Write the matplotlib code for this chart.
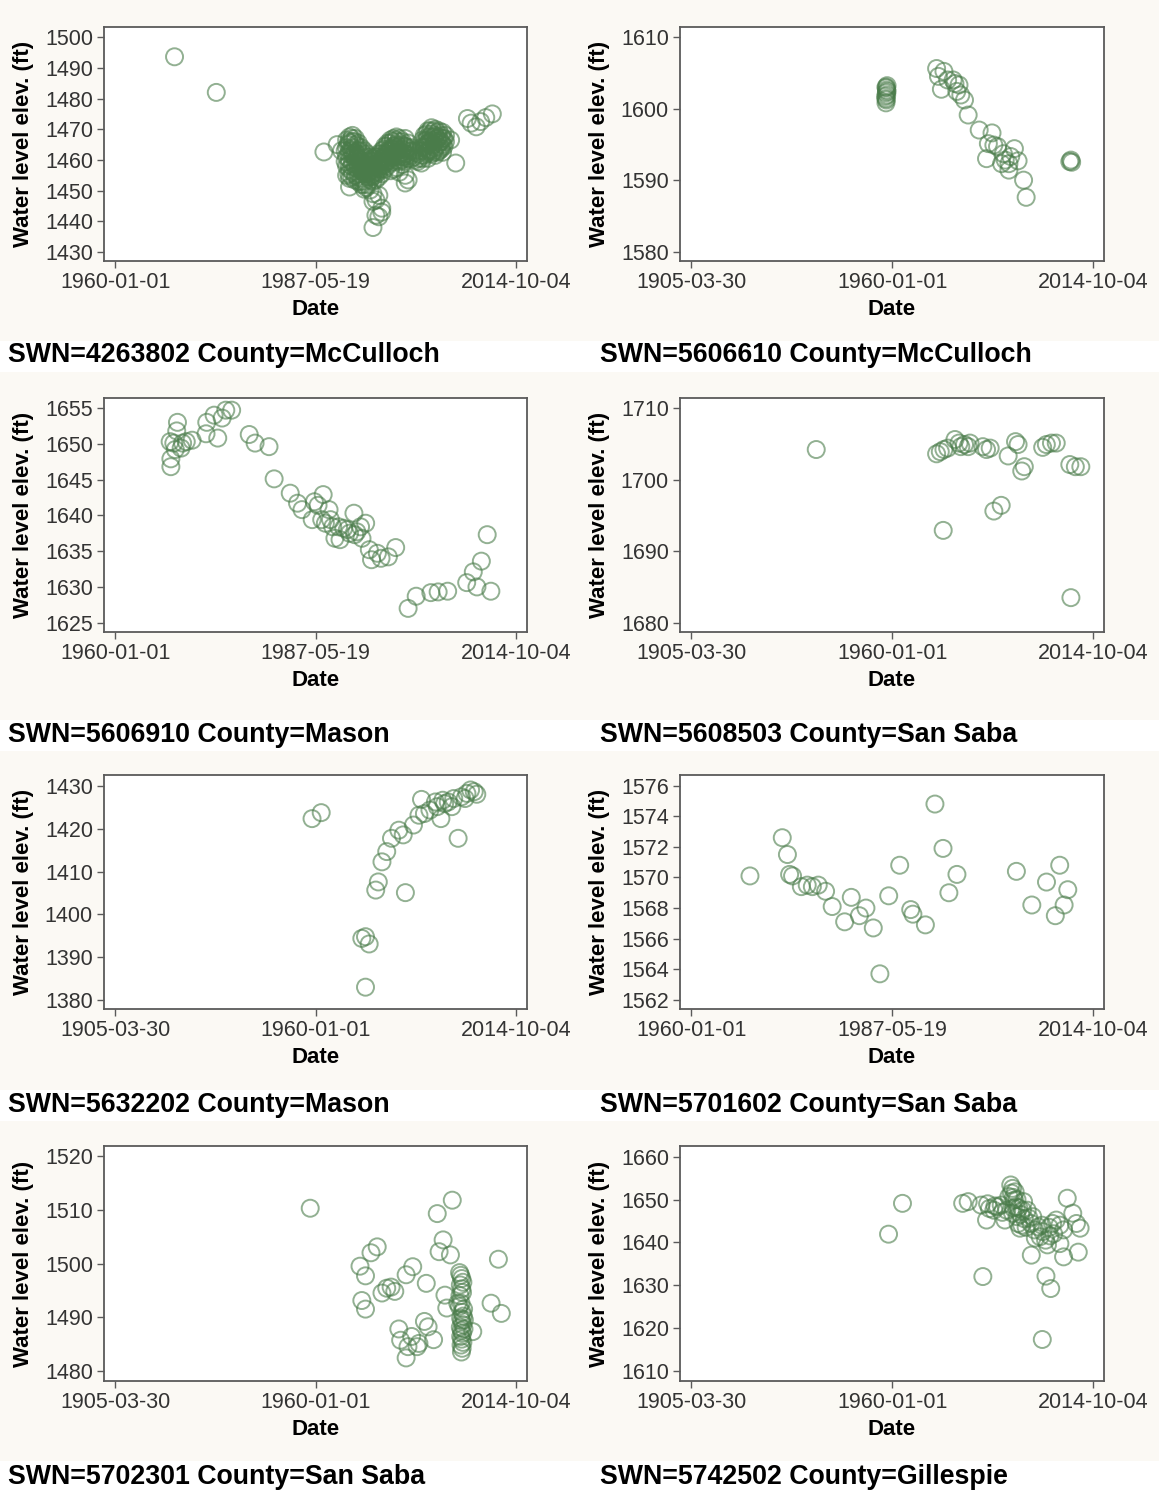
import pandas as pd
import matplotlib
matplotlib.use('Agg')
import matplotlib.pyplot as plt
import matplotlib.dates as mdates
from matplotlib.patches import Rectangle

plt.rcParams['font.family'] = ['Liberation Sans', 'DejaVu Sans']

# captions under each panel
CAPTIONS = ['SWN=4263802 County=McCulloch', 'SWN=5606610 County=McCulloch',
            'SWN=5606910 County=Mason', 'SWN=5608503 County=San Saba',
            'SWN=5632202 County=Mason', 'SWN=5701602 County=San Saba',
            'SWN=5702301 County=San Saba', 'SWN=5742502 County=Gillespie']

# date ticks used by the panels
TICKS_1960 = ['1960-01-01', '1987-05-19', '2014-10-04']
TICKS_1905 = ['1905-03-30', '1960-01-01', '2014-10-04']

# y tick labels per panel
YTICKS_1 = [1430, 1440, 1450, 1460, 1470, 1480, 1490, 1500]
YTICKS_2 = [1580, 1590, 1600, 1610]
YTICKS_3 = [1625, 1630, 1635, 1640, 1645, 1650, 1655]
YTICKS_4 = [1680, 1690, 1700, 1710]
YTICKS_5 = [1380, 1390, 1400, 1410, 1420, 1430]
YTICKS_6 = [1562, 1564, 1566, 1568, 1570, 1572, 1574, 1576]
YTICKS_7 = [1480, 1490, 1500, 1510, 1520]
YTICKS_8 = [1610, 1620, 1630, 1640, 1650, 1660]

# well 4263802 (decimal year, elevation)
YEAR_1 = [1968.1, 1973.8, 1988.5, 1990.3, 1990.9,
          1991.6, 1991.6, 1991.6, 1991.6, 1991.6,
          1992.0, 1992.0, 1992.0, 1992.0, 1992.0, 1992.0, 1992.0,
          1992.4, 1992.4, 1992.4, 1992.4, 1992.4, 1992.4,
          1992.8, 1992.8, 1992.8, 1992.8, 1992.8, 1992.8,
          1993.2, 1993.2, 1993.2, 1993.2, 1993.2, 1993.2,
          1993.6, 1993.6, 1993.6, 1993.6, 1993.6, 1993.6,
          1994.0, 1994.0, 1994.0, 1994.0, 1994.0, 1994.0,
          1994.4, 1994.4, 1994.4, 1994.4, 1994.4,
          1994.8, 1994.8, 1994.8, 1994.8, 1994.8,
          1995.2, 1995.2, 1995.2, 1995.2, 1995.2, 1995.2, 1995.2,
          1995.6, 1995.6, 1995.6, 1995.6, 1995.6, 1995.6,
          1996.0, 1996.0, 1996.0, 1996.0, 1996.0, 1996.0,
          1996.4, 1996.4, 1996.4, 1996.4, 1996.4, 1996.4,
          1996.8, 1996.8, 1996.8, 1996.8,
          1997.2, 1997.2, 1997.2, 1997.2,
          1997.6, 1997.6, 1997.6, 1997.6, 1997.6,
          1998.0, 1998.0, 1998.0, 1998.0, 1998.0,
          1998.4, 1998.4, 1998.4, 1998.4, 1998.4,
          1998.8, 1998.8, 1998.8, 1998.8, 1998.8,
          1999.2, 1999.2, 1999.2, 1999.2,
          1999.6, 1999.6, 1999.6, 1999.6, 1999.6,
          2000.0, 2000.0, 2000.0, 2000.0,
          2000.4, 2000.4, 2000.8, 2000.8, 2001.3, 2001.3,
          2001.8, 2001.8, 2001.8,
          2002.2, 2002.2, 2002.2, 2002.2,
          2002.7, 2002.7, 2002.7, 2002.7, 2002.7,
          2003.2, 2003.2, 2003.2, 2003.2, 2003.2,
          2003.7, 2003.7, 2003.7, 2003.7, 2003.7,
          2004.2, 2004.2, 2004.2, 2004.2,
          2004.7, 2004.7, 2004.7, 2004.7,
          2005.1, 2005.1,
          1991.8, 1992.2, 1992.6, 1993.0, 1993.4, 1993.8, 1994.2, 1994.6,
          1995.0, 1995.4, 1995.8, 1996.2, 1996.6, 1997.0, 1997.4, 1997.8,
          1998.2, 1998.6, 1999.0, 1999.4, 2002.4, 2002.9, 2003.4, 2003.9,
          2004.4, 2002.5, 2003.0, 2003.5, 2004.0, 2004.5,
          1991.4, 1991.4, 1991.9, 1991.9, 1991.9, 1991.9,
          1992.3, 1992.3, 1992.3, 1992.3, 1992.7, 1992.7, 1992.7, 1992.7,
          1993.1, 1993.1, 1993.1, 1993.1, 1993.5, 1993.5, 1993.5, 1993.5,
          1993.9, 1993.9, 1993.9, 1993.9, 1994.3, 1994.3, 1994.3, 1994.3,
          1994.7, 1994.7, 1994.7, 1995.1, 1995.1, 1995.1,
          1995.5, 1995.5, 1995.5, 1995.9, 1995.9, 1995.9,
          1996.3, 1996.3, 1996.3, 1996.7, 1996.7, 1996.7,
          1997.1, 1997.1, 1997.1, 1997.5, 1997.5, 1997.5,
          1997.9, 1997.9, 1997.9, 1998.3, 1998.3, 1998.3,
          1998.7, 1998.7, 1998.7, 1999.1, 1999.1, 1999.1,
          1999.5, 1999.5, 1999.5, 1999.9, 1999.9, 2000.5, 2000.5,
          2001.0, 2001.0, 2001.5, 2001.5, 2002.0, 2002.0, 2002.0,
          2002.5, 2002.5, 2002.5, 2002.5, 2003.0, 2003.0, 2003.0, 2003.0,
          2003.5, 2003.5, 2003.5, 2003.5, 2004.0, 2004.0, 2004.0,
          2004.5, 2004.5, 2004.5, 2004.9, 2004.9,
          2005.8, 2006.5, 2008.1, 2008.6, 2009.3, 2009.9, 2010.6, 2011.5]
ELEV_1 = [1493.6, 1482.0, 1462.6, 1465.0, 1463.0,
          1466.5, 1464.0, 1461.0, 1458.0, 1455.0,
          1467.5, 1465.5, 1463.0, 1460.0, 1457.0, 1454.0, 1451.2,
          1468.0, 1466.0, 1464.0, 1461.5, 1459.0, 1456.0,
          1467.0, 1465.0, 1462.5, 1460.0, 1457.5, 1455.0,
          1465.5, 1463.0, 1460.5, 1458.0, 1455.5, 1453.0,
          1464.0, 1461.5, 1459.0, 1456.5, 1454.0, 1452.0,
          1463.0, 1460.5, 1458.0, 1455.5, 1453.0, 1450.5,
          1462.0, 1459.5, 1457.0, 1454.5, 1452.0,
          1461.0, 1458.5, 1456.0, 1453.5, 1450.2,
          1460.5, 1458.0, 1455.5, 1453.0, 1449.0, 1446.5, 1438.0,
          1461.0, 1458.5, 1456.0, 1453.5, 1447.0, 1442.0,
          1462.0, 1459.5, 1457.0, 1454.5, 1448.5, 1441.5,
          1463.0, 1460.5, 1458.0, 1455.5, 1444.3, 1443.0,
          1464.5, 1462.0, 1459.5, 1457.0,
          1465.5, 1463.0, 1460.5, 1458.0,
          1466.5, 1464.0, 1461.5, 1459.0, 1456.5,
          1467.0, 1464.5, 1462.0, 1459.5, 1457.0,
          1467.5, 1465.0, 1462.5, 1460.0, 1457.5,
          1467.0, 1464.5, 1462.0, 1459.5, 1456.0,
          1466.0, 1463.5, 1461.0, 1458.5,
          1467.0, 1464.5, 1462.0, 1455.0, 1452.5,
          1465.5, 1463.0, 1460.5, 1453.5,
          1464.0, 1461.5, 1463.0, 1461.0, 1462.0, 1459.5,
          1464.0, 1461.5, 1459.0,
          1468.0, 1466.0, 1464.0, 1461.5,
          1469.5, 1467.5, 1465.5, 1463.0, 1460.5,
          1470.5, 1468.5, 1466.5, 1464.5, 1462.0,
          1470.0, 1468.0, 1466.0, 1464.0, 1461.5,
          1469.5, 1467.5, 1465.5, 1463.0,
          1469.0, 1467.0, 1465.0, 1462.5,
          1468.0, 1466.0,
          1465.0, 1463.5, 1462.0, 1460.5, 1459.5, 1458.0, 1457.0, 1456.0,
          1455.0, 1456.5, 1457.5, 1458.5, 1460.0, 1461.0, 1462.5, 1463.5,
          1464.5, 1463.0, 1462.0, 1461.0, 1465.0, 1466.0, 1467.5, 1467.0,
          1466.0, 1462.5, 1463.5, 1463.0, 1462.5, 1464.0,
          1463.0, 1459.5, 1466.0, 1462.0, 1458.5, 1455.5,
          1467.0, 1463.0, 1458.0, 1454.5, 1466.0, 1461.0, 1458.5, 1453.5,
          1464.5, 1461.5, 1457.0, 1454.5, 1463.0, 1460.0, 1457.5, 1453.0,
          1462.0, 1459.0, 1456.5, 1452.0, 1461.0, 1458.0, 1455.5, 1451.0,
          1460.0, 1457.0, 1454.5, 1459.5, 1457.0, 1454.5,
          1460.0, 1457.5, 1455.0, 1461.0, 1458.5, 1456.0,
          1462.0, 1459.5, 1457.0, 1463.5, 1461.0, 1458.5,
          1464.5, 1462.0, 1459.5, 1465.5, 1463.0, 1460.0,
          1466.0, 1463.5, 1461.0, 1466.5, 1464.0, 1461.0,
          1466.0, 1463.5, 1461.0, 1465.0, 1462.5, 1460.0,
          1464.5, 1462.0, 1459.5, 1464.0, 1461.5, 1463.0, 1460.5,
          1462.5, 1460.0, 1463.0, 1460.5, 1466.5, 1463.0, 1460.5,
          1468.5, 1466.5, 1464.5, 1462.0, 1469.5, 1467.5, 1465.5, 1463.0,
          1469.5, 1467.5, 1465.0, 1462.5, 1469.0, 1467.0, 1464.5,
          1468.0, 1466.0, 1463.5, 1467.0, 1464.5,
          1466.5, 1459.0, 1473.5, 1472.0, 1470.8, 1472.5, 1473.8, 1475.0]

# well 5606610
YEAR_2 = [1958.3, 1958.5, 1958.4, 1958.2, 1958.4, 1958.3, 1958.6, 1958.5,
          1958.4, 1958.6, 1958.3,
          1972.1, 1974.1, 1972.6, 1973.4, 1975.1, 1976.6, 1977.1, 1978.2,
          1977.6, 1978.7, 1979.7, 1980.7, 1983.7, 1987.2, 1986.2, 1987.7,
          1988.7, 1985.7, 1990.3, 1993.3, 1990.8, 1991.8, 1992.3, 1991.8,
          1994.3, 1989.8, 1995.8, 1996.5, 2008.4, 2008.9, 2008.7]
ELEV_2 = [1603.0, 1602.6, 1602.2, 1601.7, 1601.2, 1600.8, 1603.2, 1601.9,
          1602.9, 1602.4, 1601.4,
          1605.6, 1605.2, 1604.5, 1602.7, 1604.0, 1604.0, 1603.5, 1603.3,
          1602.4, 1601.9, 1601.2, 1599.1, 1597.0, 1596.6, 1595.1, 1594.9,
          1594.7, 1593.0, 1593.7, 1594.4, 1592.8, 1592.3, 1593.3, 1591.4,
          1592.7, 1592.3, 1590.0, 1587.6, 1592.6, 1592.5, 1592.8]

# well 5606910
YEAR_3 = [1967.5, 1967.6, 1967.6, 1968.5, 1968.4, 1968.0, 1968.2, 1969.0,
          1969.2, 1969.7, 1970.5, 1972.5, 1973.5, 1972.4, 1974.0, 1974.6,
          1975.1, 1975.9, 1978.3, 1979.1, 1981.0, 1981.7, 1983.9, 1984.9,
          1985.5, 1986.9, 1987.2, 1987.7, 1988.4, 1989.2, 1988.7, 1989.7,
          1990.0, 1990.7, 1990.5, 1991.2, 1992.0, 1992.6, 1993.0, 1993.5,
          1994.2, 1993.7, 1994.7, 1995.0, 1995.8, 1996.3, 1997.3, 1998.3,
          1988.2, 1989.4, 1991.7, 1992.7,
          2000.0, 2001.1, 2003.1, 2004.1, 2005.4, 2008.0, 2008.9, 2009.4,
          2010.0, 2010.8, 2011.3]
ELEV_3 = [1650.3, 1647.9, 1646.8, 1653.0, 1651.8, 1650.1, 1649.2, 1649.4,
          1650.1, 1650.3, 1650.5, 1653.0, 1654.0, 1651.4, 1650.8, 1653.6,
          1654.7, 1654.7, 1651.3, 1650.1, 1649.6, 1645.1, 1643.1, 1641.7,
          1640.8, 1639.4, 1641.9, 1641.4, 1642.9, 1640.8, 1638.9, 1638.4,
          1636.8, 1636.6, 1638.4, 1638.2, 1637.5, 1640.3, 1637.7, 1638.4,
          1638.9, 1636.8, 1635.2, 1633.8, 1634.7, 1634.0, 1634.2, 1635.5,
          1639.4, 1639.4, 1638.0, 1637.3,
          1627.0, 1628.7, 1629.2, 1629.3, 1629.4, 1630.6, 1632.1, 1630.0,
          1633.6, 1637.3, 1629.4]

# well 5608503
YEAR_4 = [1939.3, 1972.1, 1973.1, 1974.1, 1975.1, 1977.1, 1978.2, 1979.7,
          1980.7, 1981.2, 1978.7, 1984.7, 1985.7, 1986.7, 1991.6, 1993.6,
          1994.3, 1995.3, 1996.0, 1987.7, 1989.7, 1973.9, 2001.0, 2002.0,
          2003.4, 2004.7, 2008.4, 2009.9, 2011.4, 2008.7]
ELEV_4 = [1704.2, 1703.6, 1703.9, 1704.2, 1704.4, 1705.6, 1705.1, 1704.9,
          1704.6, 1705.1, 1704.6, 1704.6, 1704.2, 1704.4, 1703.3, 1705.3,
          1704.9, 1701.2, 1701.8, 1695.6, 1696.4, 1692.9, 1704.5, 1704.9,
          1705.1, 1705.1, 1702.1, 1701.8, 1701.8, 1683.5]

# well 5632202
YEAR_5 = [1959.0, 1961.5, 1972.6, 1973.6, 1974.6, 1973.6, 1976.4, 1977.1,
          1978.1, 1979.4, 1980.7, 1982.7, 1983.9, 1984.5, 1986.7, 1988.2,
          1988.9, 1989.7, 1991.2, 1992.7, 1993.2, 1994.2, 1994.7, 1995.2,
          1996.2, 1997.2, 1997.7, 1998.9, 1999.8, 2001.3, 2002.3, 2003.3,
          2004.0, 2000.8]
ELEV_5 = [1422.4, 1423.8, 1394.4, 1394.8, 1393.1, 1383.0, 1405.7, 1407.6,
          1412.3, 1414.7, 1417.8, 1419.7, 1418.6, 1405.1, 1420.9, 1423.2,
          1426.9, 1423.6, 1424.4, 1426.3, 1425.2, 1422.4, 1426.7, 1425.9,
          1426.3, 1425.2, 1427.1, 1417.8, 1427.5, 1428.3, 1429.1, 1428.7,
          1428.1, 1427.1]

# well 5701602
YEAR_6 = [1968.0, 1972.4, 1973.1, 1973.4, 1973.8, 1975.0, 1975.8, 1976.5,
          1977.3, 1978.3, 1979.2, 1980.9, 1981.8, 1982.9, 1983.8, 1984.8,
          1985.7, 1986.9, 1988.4, 1989.9, 1990.2, 1991.9, 1993.2, 1994.3,
          1995.1, 1996.2, 2004.3, 2006.4, 2008.4, 2009.6, 2010.2, 2010.8,
          2011.3]
ELEV_6 = [1570.1, 1572.6, 1571.5, 1570.2, 1570.1, 1569.4, 1569.5, 1569.4,
          1569.5, 1569.1, 1568.1, 1567.1, 1568.7, 1567.5, 1568.0, 1566.7,
          1563.7, 1568.8, 1570.8, 1567.9, 1567.6, 1566.9, 1574.8, 1571.9,
          1569.0, 1570.2, 1570.4, 1568.2, 1569.7, 1567.5, 1570.8, 1568.2,
          1569.2]

# well 5702301
YEAR_7 = [1958.5, 1972.1, 1973.6, 1972.6, 1973.6, 1975.1, 1976.8, 1978.1,
          1979.4, 1980.6, 1981.6, 1982.7, 1983.2, 1984.7, 1985.2, 1986.2,
          1987.7, 1988.2, 1989.7, 1990.7, 1992.2, 1984.7, 1986.5, 1990.2,
          1993.2, 1997.3, 1994.8, 1993.7, 1996.8, 1995.3, 1995.8, 1998.8,
          1999.3, 1999.6, 1999.9, 2000.2, 1999.5, 1999.9, 2000.1, 1999.4,
          1999.7, 2000.0, 2000.3, 1999.6, 1999.9, 2000.2, 1999.5, 1999.8,
          2000.1, 1999.6, 1999.9, 2000.2, 1999.7, 2000.0, 1999.8, 2000.4,
          2000.6, 2000.5, 1999.2,
          2002.9, 2007.9, 2009.9, 2010.7]
ELEV_7 = [1510.3, 1499.5, 1497.7, 1493.1, 1491.5, 1502.0, 1503.1, 1494.5,
          1495.4, 1495.6, 1494.8, 1487.8, 1485.7, 1482.4, 1484.5, 1486.4,
          1484.5, 1485.1, 1489.2, 1488.2, 1485.8, 1497.9, 1499.4, 1496.3,
          1509.3, 1511.8, 1504.4, 1502.2, 1501.6, 1494.1, 1491.7, 1492.6,
          1498.3, 1497.8, 1497.2, 1496.5, 1496.0, 1495.3, 1494.6, 1494.0,
          1492.6, 1490.9, 1490.2, 1489.8, 1489.3, 1488.6, 1488.1, 1487.5,
          1487.0, 1486.4, 1485.9, 1485.3, 1484.8, 1484.2, 1483.5, 1491.5,
          1489.5, 1487.8, 1492.0,
          1487.3, 1492.6, 1500.8, 1490.7]

# well 5742502
YEAR_8 = [1959.0, 1962.8, 1979.2, 1980.7, 1984.7, 1984.2, 1985.7, 1986.5,
          1987.7, 1988.7, 1989.7, 1990.7, 1991.2, 1992.3, 1992.8, 1991.8,
          1993.3, 1993.8, 1992.8, 1994.3, 1994.8, 1995.8, 1996.8, 1997.3,
          1997.8, 1998.3, 1998.8, 1999.8, 2000.8, 2000.3, 2001.8, 2002.3,
          1997.9, 2001.9, 2003.2, 2000.9, 2003.7, 2004.7, 2005.7, 2006.7,
          2005.7, 2006.7, 2007.7, 2009.2, 2010.2, 2011.2, 2010.7,
          1992.5, 1993.0, 1993.5, 1994.0, 1994.5, 1995.0, 1995.5, 1996.0,
          1993.0, 1994.0, 1995.3, 1996.5, 1999.0, 2001.0, 2002.8, 2003.0,
          2004.0, 1986.0, 1988.0, 1990.0]
ELEV_8 = [1641.9, 1649.1, 1649.1, 1649.5, 1632.0, 1648.7, 1645.2, 1647.9,
          1647.5, 1648.3, 1648.7, 1645.2, 1647.5, 1653.4, 1652.6, 1650.7,
          1649.9, 1648.3, 1646.8, 1644.4, 1643.3, 1649.5, 1647.5, 1645.6,
          1644.4, 1646.0, 1642.9, 1643.6, 1644.0, 1641.3, 1640.5, 1639.4,
          1637.0, 1632.1, 1629.2, 1617.3, 1644.4, 1645.2, 1644.0, 1642.9,
          1639.7, 1636.6, 1650.3, 1646.8, 1644.4, 1643.3, 1637.7,
          1651.5, 1650.5, 1651.8, 1650.0, 1648.0, 1646.5, 1647.5, 1645.5,
          1648.0, 1646.0, 1644.0, 1643.5, 1641.0, 1642.5, 1643.5, 1641.5,
          1642.0, 1649.0, 1648.5, 1647.0]

PANELS = [
    (YEAR_1, ELEV_1, TICKS_1960, YTICKS_1, (1427.1, 1503.3)),
    (YEAR_2, ELEV_2, TICKS_1905, YTICKS_2, (1578.7, 1611.4)),
    (YEAR_3, ELEV_3, TICKS_1960, YTICKS_3, (1623.7, 1656.4)),
    (YEAR_4, ELEV_4, TICKS_1905, YTICKS_4, (1678.7, 1711.4)),
    (YEAR_5, ELEV_5, TICKS_1905, YTICKS_5, (1377.9, 1432.6)),
    (YEAR_6, ELEV_6, TICKS_1960, YTICKS_6, (1561.4, 1576.7)),
    (YEAR_7, ELEV_7, TICKS_1905, YTICKS_7, (1478.1, 1521.9)),
    (YEAR_8, ELEV_8, TICKS_1905, YTICKS_8, (1607.6, 1662.5)),
]

W, H = 1159, 1492
BG = '#fbf9f4'
GREEN = '#4a7c4a'
FRAME = '#5a5a5a'


def to_dates(years):
    # decimal year -> timestamp
    return [pd.Timestamp(int(y), 1, 1) + pd.Timedelta(days=(y - int(y)) * 365.25) for y in years]


fig = plt.figure(figsize=(W / 100, H / 100), dpi=100, facecolor=BG)

# pixel layout of the boxes
COLS = [(104, 527), (680, 1104)]
ROWS = [(27, 261), (398, 632), (775, 1009), (1146, 1381)]
CAP_Y = [355, 735, 1105, 1477]
BANDS = [(341, 372), (720, 751), (1090, 1121), (1461, 1492)]
CAP_X = [8, 600]

# white strips behind captions
for top, bot in BANDS:
    fig.patches.append(Rectangle((0, 1 - bot / H), 1, (bot - top) / H,
                                 transform=fig.transFigure, facecolor='white',
                                 edgecolor='none', zorder=0))

for i, (years, elev, xticks, yticks, ylim) in enumerate(PANELS):
    row, col = divmod(i, 2)
    x0, x1 = COLS[col]
    top, bot = ROWS[row]
    ax = fig.add_axes([x0 / W, 1 - bot / H, (x1 - x0) / W, (bot - top) / H])
    ax.set_facecolor('white')

    ax.scatter(to_dates(years), elev, s=150, facecolors='none',
               edgecolors=GREEN, linewidths=1.4, alpha=0.6)

    tick_dates = pd.to_datetime(xticks)
    span = tick_dates[-1] - tick_dates[0]
    ax.set_xlim(tick_dates[0] - span * 0.028, tick_dates[-1] + span * 0.027)
    ax.set_xticks(tick_dates)
    ax.xaxis.set_major_formatter(mdates.DateFormatter('%Y-%m-%d'))
    ax.set_ylim(*ylim)
    ax.set_yticks(yticks)

    for sp in ax.spines.values():
        sp.set_color(FRAME)
        sp.set_linewidth(1.3)
    ax.tick_params(direction='out', length=5, width=1, colors=FRAME,
                   labelcolor='#333333', labelsize=15.5, pad=3)
    ax.set_xlabel('Date', fontsize=16, fontweight='bold', labelpad=4)
    ax.set_ylabel('Water level elev. (ft)', fontsize=16, fontweight='bold', labelpad=8)

    fig.text(CAP_X[col] / W, 1 - CAP_Y[row] / H, CAPTIONS[i], fontsize=19.3,
             fontweight='bold', va='center', ha='left', color='black')

fig.savefig('out.png', dpi=100, facecolor=BG)
